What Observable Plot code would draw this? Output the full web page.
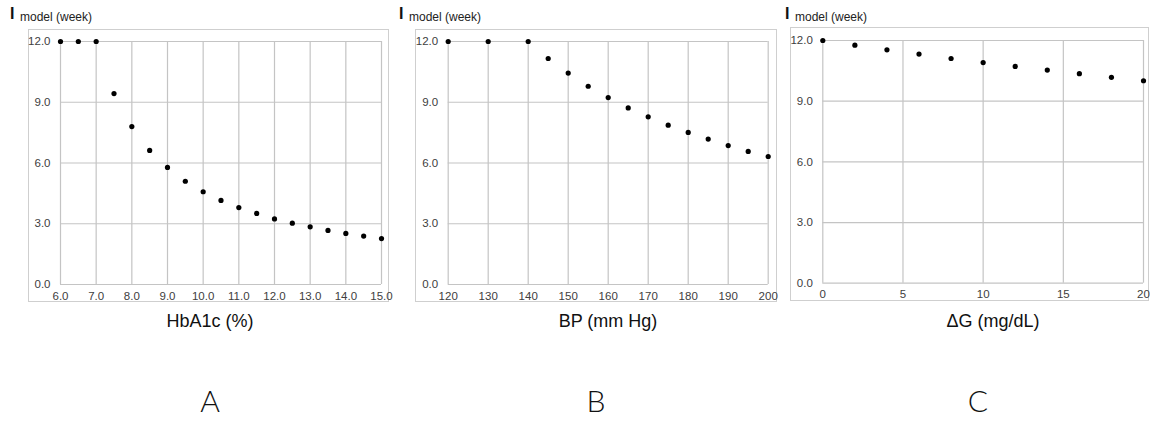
<!DOCTYPE html>
<html>
<head>
<meta charset="utf-8">
<script src="https://cdn.jsdelivr.net/npm/d3@7"></script>
<script src="https://cdn.jsdelivr.net/npm/@observablehq/plot@0.6"></script>
<style>
  html, body { margin: 0; padding: 0; background: #fff; }
  #root { position: relative; width: 1150px; height: 421px; overflow: hidden; font-family: "Liberation Sans", Arial, sans-serif; }
  .abs { position: absolute; white-space: nowrap; line-height: 1; }
  .box { position: absolute; box-sizing: border-box; border: 1px solid #cfcfcf; }
  .panel { position: absolute; }
  .panel svg { overflow: visible; }
  .xt { font-size: 18px; color: #111; text-align: center; width: 240px; }
  .lt { font-family: Lato, "Open Sans", sans-serif; font-weight: 300; font-size: 30px; color: #111; text-align: center; width: 60px; }
</style>
</head>
<body>
<div id="root"></div>
<script>
// ---- data ----
const hbaX = [6.0, 6.5, 7.0, 7.5, 8.0, 8.5, 9.0, 9.5, 10.0, 10.5, 11.0, 11.5, 12.0, 12.5, 13.0, 13.5, 14.0, 14.5, 15.0];
const hbaY = [12.0, 12.0, 12.0, 9.43, 7.80, 6.62, 5.78, 5.10, 4.58, 4.15, 3.80, 3.51, 3.24, 3.03, 2.85, 2.67, 2.52, 2.39, 2.27];
const bpX = [120, 130, 140, 145, 150, 155, 160, 165, 170, 175, 180, 185, 190, 195, 200];
const bpY = [12.0, 12.0, 12.0, 11.16, 10.44, 9.79, 9.23, 8.72, 8.28, 7.87, 7.51, 7.18, 6.86, 6.57, 6.32];
const dgX = [0, 2, 4, 6, 8, 10, 12, 14, 16, 18, 20];
const dgY = [12.0, 11.77, 11.54, 11.33, 11.11, 10.91, 10.72, 10.54, 10.36, 10.18, 10.01];

const yTicks = [0, 3, 6, 9, 12];
const hbaTicks = [6, 7, 8, 9, 10, 11, 12, 13, 14, 15];
const bpTicks = [120, 130, 140, 150, 160, 170, 180, 190, 200];
const dgTicks = [0, 5, 10, 15, 20];

const yTitleMain = "I";
const yTitleSub = "model (week)";
const xTitles = ["HbA1c (%)", "BP (mm Hg)", "ΔG (mg/dL)"];
const panelLetters = ["A", "B", "C"];

// ---- layout ----
const panels = [
  { xs: hbaX, ys: hbaY, ticks: hbaTicks, domain: [6, 15], fmt: d3.format(".1f"),
    box: [28, 29, 389, 302], area: [60, 41, 381, 284],
    titleI: 10, titleSub: 20, xtCenter: 210, letter: 210 },
  { xs: bpX, ys: bpY, ticks: bpTicks, domain: [120, 200], fmt: d3.format("d"),
    box: [415, 29, 777, 302], area: [447.7, 41, 767.7, 284],
    titleI: 399, titleSub: 409, xtCenter: 608, letter: 596 },
  { xs: dgX, ys: dgY, ticks: dgTicks, domain: [0, 20], fmt: d3.format("d"),
    box: [790, 27, 1149, 301], area: [822.3, 40, 1143, 282.7],
    titleI: 785, titleSub: 795, xtCenter: 993, letter: 978 }
];

const root = document.getElementById("root");

function addText(cls, text, left, top, extraStyle) {
  const d = document.createElement("div");
  d.className = "abs " + (cls || "");
  d.textContent = text;
  d.style.left = left + "px";
  d.style.top = top + "px";
  if (extraStyle) Object.assign(d.style, extraStyle);
  root.appendChild(d);
  return d;
}

panels.forEach((p, i) => {
  const [bl, bt, br, bb] = p.box;
  const [al, at, ar, ab] = p.area;
  const W = br - bl, H = bb - bt;

  const box = document.createElement("div");
  box.className = "box";
  Object.assign(box.style, { left: bl + "px", top: bt + "px", width: W + "px", height: H + "px" });
  root.appendChild(box);

  const data = p.xs.map((x, k) => ({ x, y: p.ys[k] }));

  const chart = Plot.plot({
    width: W,
    height: H,
    marginLeft: al - bl,
    marginRight: br - ar,
    marginTop: at - bt,
    marginBottom: bb - ab,
    style: { fontFamily: "'Liberation Sans', Arial, sans-serif", fontSize: "11px", color: "#404040", background: "transparent", overflow: "visible" },
    x: { domain: p.domain, label: null },
    y: { domain: [0, 12], label: null },
    marks: [
      Plot.gridX(p.ticks, { stroke: "#c4c4c4", strokeOpacity: 1, strokeWidth: 1.2 }),
      Plot.gridY(yTicks, { stroke: "#c4c4c4", strokeOpacity: 1, strokeWidth: 1.2 }),
      Plot.axisX({ ticks: p.ticks, tickFormat: p.fmt, tickSize: 0, tickPadding: 7, label: null, fontSize: 11.5, fill: "#404040" }),
      Plot.axisY({ ticks: yTicks, tickFormat: d3.format(".1f"), tickSize: 0, tickPadding: 10, label: null, fontSize: 11.5, fill: "#404040" }),
      Plot.dot(data, { x: "x", y: "y", r: 2.6, fill: "#000", stroke: "none" })
    ]
  });

  const holder = document.createElement("div");
  holder.className = "panel";
  Object.assign(holder.style, { left: bl + "px", top: bt + "px", width: W + "px", height: H + "px" });
  holder.appendChild(chart);
  root.appendChild(holder);

  // y title "I model (week)"
  addText("", yTitleMain, p.titleI, 5.5, { fontSize: "16px", color: "#111", fontWeight: "600" });
  addText("", yTitleSub, p.titleSub, 11.3, { fontSize: "12px", color: "#222" });

  // x title
  addText("xt", xTitles[i], p.xtCenter - 120, 311.8);
  // panel letter
  addText("lt", panelLetters[i], p.letter - 30, 385);
});
</script>
</body>
</html>
